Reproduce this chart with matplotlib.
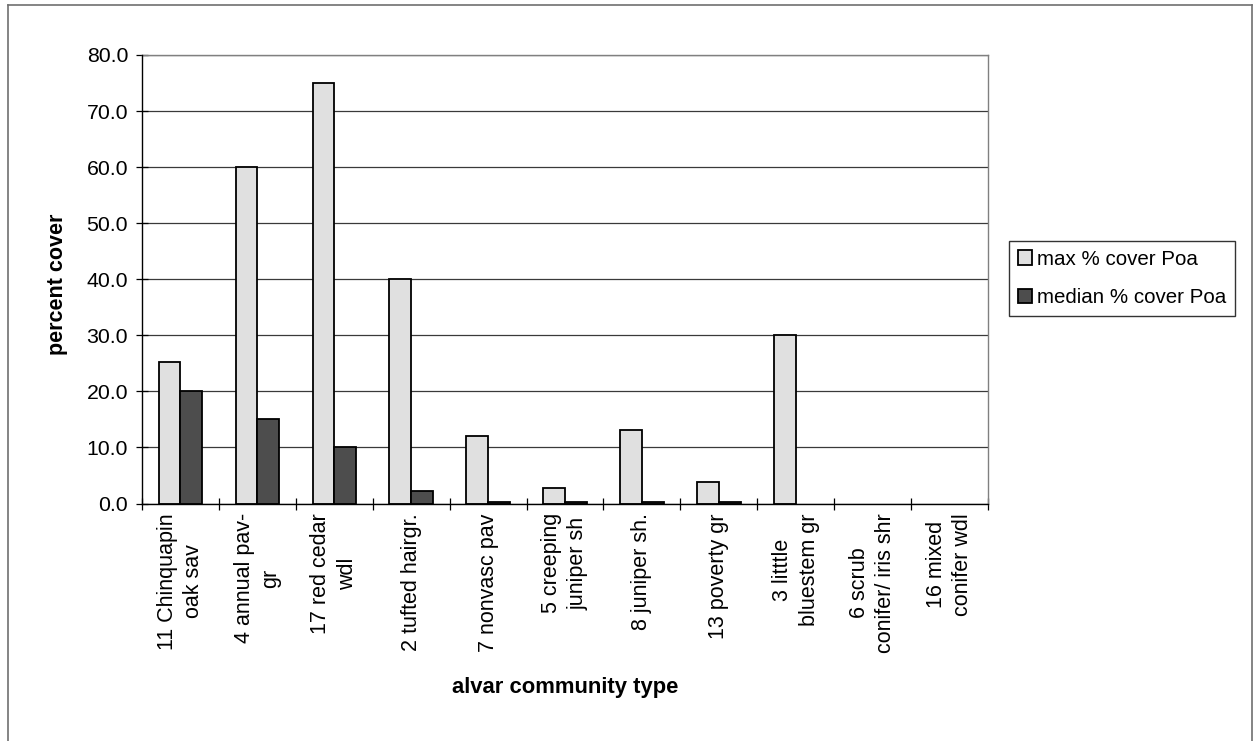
import matplotlib
matplotlib.use("Agg")
import matplotlib.pyplot as plt
import numpy as np
from matplotlib.lines import Line2D

plt.rcParams['font.family'] = ['Liberation Sans', 'DejaVu Sans']

communities = ['11 Chinquapin\noak sav', '4 annual pav-\ngr', '17 red cedar\nwdl',
               '2 tufted hairgr.', '7 nonvasc pav', '5 creeping\njuniper sh',
               '8 juniper sh.', '13 poverty gr', '3 litttle\nbluestem gr',
               '6 scrub\nconifer/ iris shr', '16 mixed\nconifer wdl']
max_cover = [25.2, 60.0, 75.0, 40.0, 12.0, 2.8, 13.1, 3.8, 30.0, 0.0, 0.0]
median_cover = [20.0, 15.0, 10.0, 2.2, 0.3, 0.3, 0.3, 0.3, 0.0, 0.0, 0.0]
y_ticks = [0, 10, 20, 30, 40, 50, 60, 70, 80]

fig = plt.figure(figsize=(12.59, 7.41), dpi=100)
ax = fig.add_axes([142/1259, 1 - 503.5/741, (988 - 142)/1259, (503.5 - 55)/741])

x = np.arange(len(communities)) + 0.5
w = 0.282
# empty categories get no outline
ax.bar(x - w/2, max_cover, width=w, color='#e0e0e0', edgecolor='black',
       linewidth=[1.3 if v > 0 else 0 for v in max_cover],
       label='max % cover Poa', zorder=3)
ax.bar(x + w/2, median_cover, width=w, color='#4d4d4d', edgecolor='black',
       linewidth=[1.3 if v > 0 else 0 for v in median_cover],
       label='median % cover Poa', zorder=3)

ax.set_xlim(0, len(communities))
ax.set_ylim(0, 80)
ax.set_yticks(y_ticks, ['%.1f' % v for v in y_ticks])
ax.yaxis.grid(True, color='#3a3a3a', linewidth=0.9, zorder=0)

ax.set_xticks(np.arange(len(communities) + 1))
ax.set_xticklabels([])
ax.set_xticks(x, communities, minor=True, rotation=90, va='top', ha='center',
              multialignment='center', linespacing=1.35)
ax.tick_params(axis='x', which='minor', length=0, pad=7, labelsize=15.5)
ax.tick_params(axis='x', which='major', direction='inout', length=8.5, width=0.9)
ax.tick_params(axis='y', direction='inout', length=8, width=0.9, pad=6, labelsize=15.3)

for side in ['left', 'bottom']:
    ax.spines[side].set_color('black')
    ax.spines[side].set_linewidth(1.0)
    ax.spines[side].set_zorder(4)
for side in ['top', 'right']:
    ax.spines[side].set_color('#808080')
    ax.spines[side].set_linewidth(1.0)

fig.text(57/1259, 1 - 284/741, 'percent cover', rotation=90, ha='center', va='center',
         fontsize=15.5, fontweight='bold')
fig.text(565/1259, 1 - 688/741, 'alvar community type', ha='center', va='center',
         fontsize=15.8, fontweight='bold')

leg = fig.legend(loc='upper left', bbox_to_anchor=(1009/1259, 1 - 241/741),
                 borderaxespad=0, fontsize=14.8, frameon=True, fancybox=False,
                 handlelength=0.7, handleheight=0.7, handletextpad=0.25,
                 labelspacing=0.95, borderpad=0.42)
leg.get_frame().set_edgecolor('black')
leg.get_frame().set_linewidth(1.0)

# outer chart border
bx0, bx1, by0 = 8/1259, 1252/1259, 1 - 5/741
fig.add_artist(Line2D([bx0, bx0], [0, by0], color='#707070', linewidth=1.2))
fig.add_artist(Line2D([bx0, bx1], [by0, by0], color='#707070', linewidth=1.2))
fig.add_artist(Line2D([bx1, bx1], [0, by0], color='#707070', linewidth=1.2))

fig.savefig('out.png', dpi=100)
